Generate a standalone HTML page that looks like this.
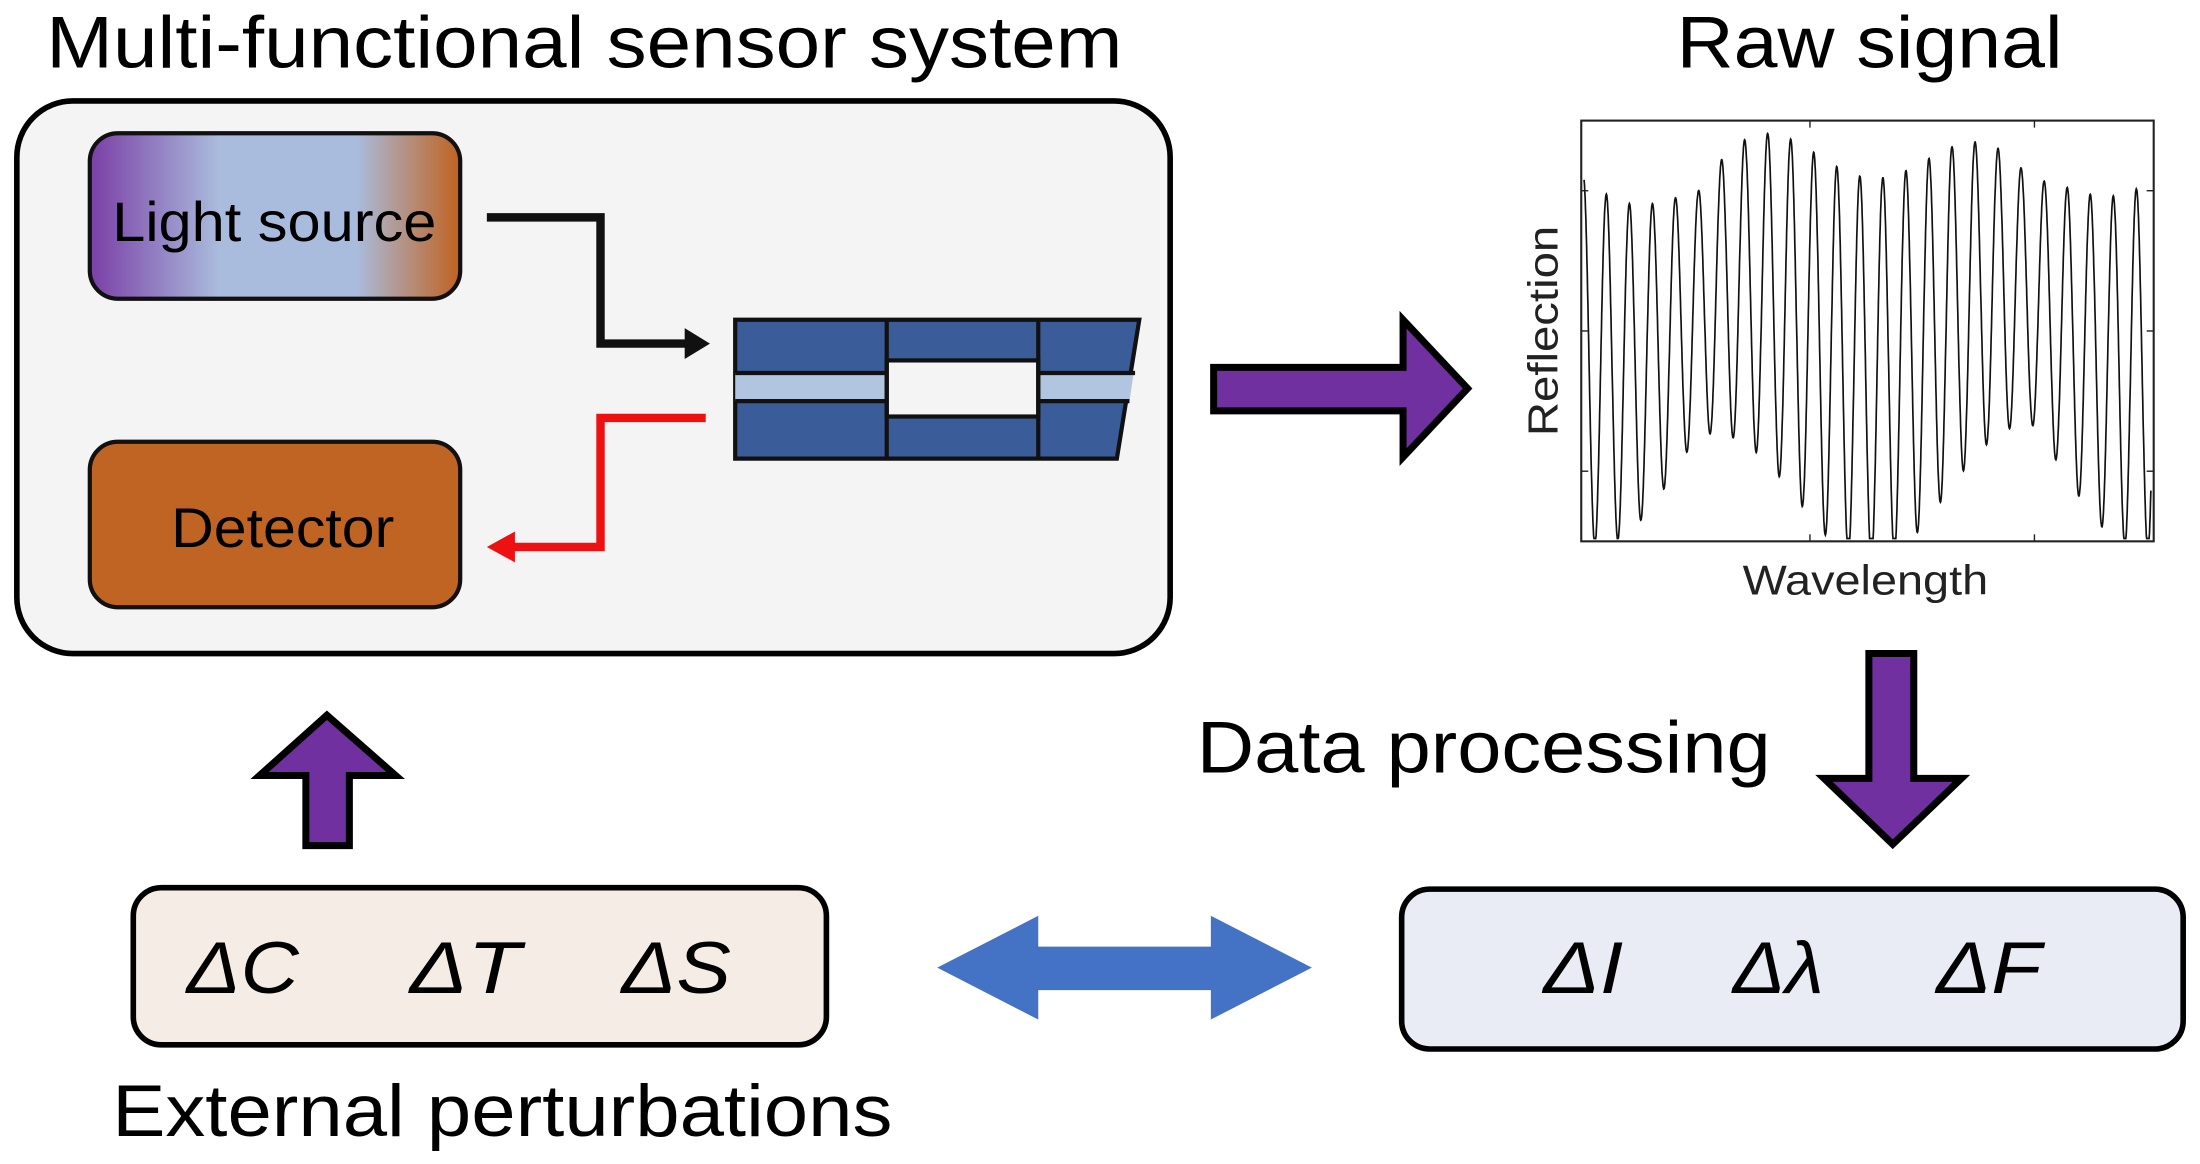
<!DOCTYPE html>
<html><head><meta charset="utf-8"><style>
html,body{margin:0;padding:0;background:#fff;}
svg{display:block;}
text{font-family:"Liberation Sans",Arial,sans-serif;}
</style></head><body>
<svg width="2200" height="1164" viewBox="0 0 1568 830" preserveAspectRatio="none" xmlns="http://www.w3.org/2000/svg">
<defs>
<linearGradient id="lg" x1="0" x2="1" y1="0" y2="0">
<stop offset="0" stop-color="#7a3fa6"/>
<stop offset="0.35" stop-color="#aabcdd"/>
<stop offset="0.72" stop-color="#aabcdd"/>
<stop offset="1" stop-color="#c0621f"/>
</linearGradient>
</defs>
<text x="33" y="48" font-size="52" textLength="767" lengthAdjust="spacingAndGlyphs">Multi-functional sensor system</text>
<rect x="12" y="72" width="822" height="394" rx="40" fill="#f4f4f4" stroke="#000" stroke-width="4"/>
<rect x="64" y="95" width="264" height="118" rx="20" fill="url(#lg)" stroke="#111" stroke-width="3"/>
<text x="80" y="172" font-size="40" textLength="231" lengthAdjust="spacingAndGlyphs">Light source</text>
<rect x="64" y="315" width="264" height="118" rx="20" fill="#c06423" stroke="#111" stroke-width="3"/>
<text x="122" y="390" font-size="40" textLength="159" lengthAdjust="spacingAndGlyphs">Detector</text>
<polyline points="347,155 428,155 428,245 490,245" fill="none" stroke="#111" stroke-width="6"/>
<polygon points="488,234 506,245 488,256" fill="#111"/>
<polyline points="503,298 428,298 428,390 365,390" fill="none" stroke="#ee1111" stroke-width="6"/>
<polygon points="367,379 347,390 367,401" fill="#ee1111"/>
<polygon points="524,228 812,228 796,327 524,327" fill="#3a5c98" stroke="#111" stroke-width="3"/>
<rect x="524" y="266" width="108" height="20" fill="#b1c4e0"/>
<polygon points="741,266 808,266 805,286 741,286" fill="#b1c4e0"/>
<line x1="524" y1="266" x2="632" y2="266" stroke="#111" stroke-width="3"/>
<line x1="524" y1="286" x2="632" y2="286" stroke="#111" stroke-width="3"/>
<line x1="740" y1="266" x2="809" y2="266" stroke="#111" stroke-width="3"/>
<line x1="740" y1="286" x2="805" y2="286" stroke="#111" stroke-width="3"/>
<rect x="632" y="257" width="108" height="40" fill="#f4f4f4" stroke="#111" stroke-width="3"/>
<line x1="632" y1="228" x2="632" y2="327" stroke="#111" stroke-width="3"/>
<line x1="740" y1="228" x2="740" y2="327" stroke="#111" stroke-width="3"/>
<polygon points="865,262 1000,262 1000,228 1046,277 1000,326 1000,293 865,293" fill="#7030a0" stroke="#000" stroke-width="5"/>
<text x="1195" y="48" font-size="52" textLength="275" lengthAdjust="spacingAndGlyphs">Raw signal</text>
<rect x="1127" y="86" width="408" height="300" fill="#fff" stroke="#222" stroke-width="1.5"/>
<path id="sig" d="" fill="none" stroke="#111" stroke-width="1.2"/>
<g stroke="#222" stroke-width="1">
<line x1="1127" y1="136" x2="1132" y2="136"/><line x1="1127" y1="236" x2="1132" y2="236"/><line x1="1127" y1="336" x2="1132" y2="336"/>
<line x1="1535" y1="136" x2="1530" y2="136"/><line x1="1535" y1="236" x2="1530" y2="236"/><line x1="1535" y1="336" x2="1530" y2="336"/>
<line x1="1290" y1="386" x2="1290" y2="381"/><line x1="1450" y1="386" x2="1450" y2="381"/>
<line x1="1290" y1="86" x2="1290" y2="91"/><line x1="1450" y1="86" x2="1450" y2="91"/>
</g>
<text transform="translate(1110,236) rotate(-90)" font-size="30" text-anchor="middle" fill="#222" textLength="150" lengthAdjust="spacingAndGlyphs">Reflection</text>
<text x="1242" y="424" font-size="30" fill="#222" textLength="175" lengthAdjust="spacingAndGlyphs">Wavelength</text>
<polygon points="1332,466 1364,466 1364,555 1398,555 1349,602 1300,555 1332,555" fill="#7030a0" stroke="#000" stroke-width="5"/>
<text x="853" y="551" font-size="52" textLength="409" lengthAdjust="spacingAndGlyphs">Data processing</text>
<polygon points="218,603 249,603 249,553 282,553 233,510 185,553 218,553" fill="#7030a0" stroke="#000" stroke-width="5"/>
<rect x="95" y="633" width="494" height="112" rx="20" fill="#f6ece6" stroke="#000" stroke-width="4"/>
<rect x="999" y="634" width="557" height="114" rx="20" fill="#e9ecf4" stroke="#000" stroke-width="4"/>
<polygon points="668,690 740,653 740,675 863,675 863,653 935,690 863,727 863,706 740,706 740,727" fill="#4472c4"/>
<g font-size="52" font-style="italic">
<text x="133" y="708" textLength="80" lengthAdjust="spacingAndGlyphs">ΔC</text>
<text x="292" y="708" textLength="79" lengthAdjust="spacingAndGlyphs">ΔT</text>
<text x="443" y="708" textLength="78" lengthAdjust="spacingAndGlyphs">ΔS</text>
<text x="1100" y="708" textLength="57" lengthAdjust="spacingAndGlyphs">ΔI</text>
<text x="1235" y="708" textLength="65" lengthAdjust="spacingAndGlyphs">Δλ</text>
<text x="1380" y="708" textLength="75" lengthAdjust="spacingAndGlyphs">ΔF</text>
</g>
<text x="80" y="810" font-size="52" textLength="556" lengthAdjust="spacingAndGlyphs">External perturbations</text>
<script>
(function(){
var d="",x0=1129,x1=1533,N=1600;
for(var i=0;i<=N;i++){
var t=i/N,x=x0+(x1-x0)*t;
var env=0.62+0.36*Math.abs(Math.cos(Math.PI*1.7*t+0.5));
var off=0.2*Math.cos(2*Math.PI*2.2*t+2.4);
var v=env*Math.cos(2*Math.PI*24.6*t+0.2)+off;
var y=236-140*v;
y=Math.max(88,Math.min(384,y));
d+=(i?"L":"M")+x.toFixed(1)+","+y.toFixed(1);
}
document.getElementById("sig").setAttribute("d",d);
})();
</script>
</svg>
</body></html>
